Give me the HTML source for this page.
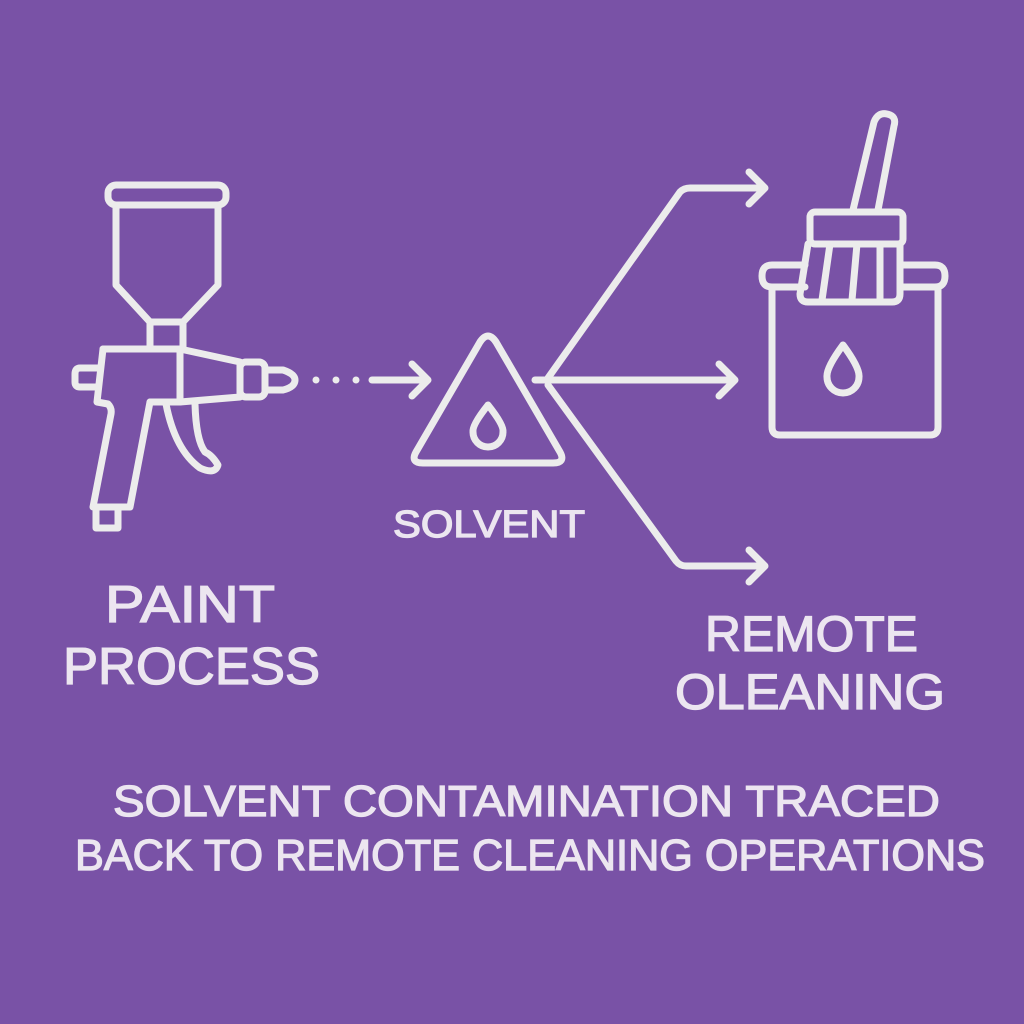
<!DOCTYPE html>
<html><head><style>html,body{margin:0;padding:0;background:#7952a6;}svg{display:block}</style></head><body>
<svg width="1024" height="1024" viewBox="0 0 1024 1024" xmlns="http://www.w3.org/2000/svg">
<rect width="1024" height="1024" fill="#7952a6"/>
<g fill="none" stroke="#ececec" stroke-width="7" stroke-linejoin="round" stroke-linecap="round">
<rect x="108" y="185" width="118" height="20" rx="8"/>
<path d="M116,205 L116,285 L150,322 L183,322 L218,285 L218,205"/>
<rect x="150" y="322" width="33" height="27"/>
<path d="M103,349 L180,349 L240,362 L240,397 L180,402 L150,402"/>
<path d="M103,349 L97,402 L108,404 Q112,408 111,414 L93,507 L130,507 L150,402"/>
<path d="M100,368 L80,368 Q75,368 75,374 L75,382 Q75,387 80,387 L97,387"/>
<path d="M180,349 L180,402"/>
<rect x="240" y="362" width="25" height="35" rx="6"/>
<path d="M265,370 L283,370 Q295,374 295,380 Q295,387 283,390 L265,390"/>
<rect x="96" y="507" width="22" height="21"/>
<path d="M166,404 Q175,450 200,468 Q215,475 218,465 Q212,455 205,452 Q196,440 195,404"/>
<path d="M372,380 L428,380 M412,364 L428,380 L412,396"/>
<path d="M480,342 Q488,330 496,342 L560,452 Q566,463 553,463 L423,463 Q410,463 416,452 Z"/>
<path d="M488,405 Q472,425 473,432 A15,15 0 0 0 503,432 Q504,425 488,405 Z"/>
<path d="M535,380 L735,380 M719,364 L735,380 L719,396"/>
<path d="M548,378 L680,192 Q684,188 690,188 L765,188 M749,172 L765,188 L749,204"/>
<path d="M548,385 L676,561 Q680,566 686,566 L765,566 M749,550 L765,566 L749,582"/>
<path d="M805,287 L772,287 Q762,287 762,276 Q762,265 772,265 L805,265"/>
<path d="M902,265 L935,265 Q945,265 945,276 Q945,287 935,287 L902,287"/>
<path d="M772,287 L772,427 Q772,435 780,435 L930,435 Q938,435 938,427 L938,287"/>
<path d="M853,210 L874,122 Q878,112 887,114 Q897,116 894,126 L878,210"/>
<rect x="810" y="212" width="93" height="32" rx="5"/>
<path d="M808,244 L800,294 Q800,302 808,302 L892,302 Q900,302 900,294 L900,244"/>
<path d="M830,244 L822,300 M857,244 L852,300 M880,244 L880,300"/>
<path d="M843,345 Q826,368 827,377 A16,16 0 0 0 859,377 Q860,368 843,345 Z"/>
</g>
<g fill="#ececec"><circle cx="316" cy="380" r="3.5"/><circle cx="336" cy="380" r="3.5"/><circle cx="356" cy="380" r="3.5"/></g>
<g fill="#ece6f0" stroke="#ece6f0" stroke-width="1.3" font-family="Liberation Sans, sans-serif" lengthAdjust="spacingAndGlyphs">
<text x="105" y="622" font-size="52" textLength="170" lengthAdjust="spacingAndGlyphs">PAINT</text>
<text x="63" y="684" font-size="52" textLength="257" lengthAdjust="spacingAndGlyphs">PROCESS</text>
<text x="393" y="537" font-size="38" textLength="192" lengthAdjust="spacingAndGlyphs">SOLVENT</text>
<text x="705" y="651" font-size="50" textLength="213" lengthAdjust="spacingAndGlyphs">REMOTE</text>
<text x="675" y="709" font-size="50" textLength="270" lengthAdjust="spacingAndGlyphs">OLEANING</text>
<text x="113" y="816" font-size="44" textLength="827" lengthAdjust="spacingAndGlyphs">SOLVENT CONTAMINATION TRACED</text>
<text x="75" y="870" font-size="44" textLength="910" lengthAdjust="spacingAndGlyphs">BACK TO REMOTE CLEANING OPERATIONS</text>
</g>
</svg>
</body></html>
